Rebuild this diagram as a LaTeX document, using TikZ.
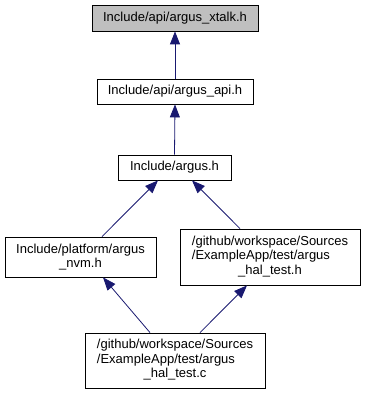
\documentclass[tikz,border=0pt]{standalone}
\usepackage{fontspec}
\setmainfont{Liberation Sans}
\usetikzlibrary{arrows.meta}
\definecolor{edgeblue}{HTML}{191970}
\definecolor{hilite}{HTML}{BFBFBF}
\begin{document}
\begin{tikzpicture}[x=1pt,y=-1pt,
  file/.style={draw=black, line width=0.8pt, fill=white, inner sep=0pt,
    font=\fontsize{13}{14.5}\selectfont, align=center},
  dep/.style={draw=edgeblue, line width=0.8pt,
    -{Triangle[length=13pt,width=10pt,fill=edgeblue]}}]
\useasboundingbox (0,0) rectangle (365,395);

% include files
\node[file, fill=hilite, minimum width=166pt, minimum height=26pt] (xtalk) at (175,18) {Include/api/argus\_xtalk.h};
\node[file, minimum width=156pt, minimum height=25pt] (api) at (175,91.5) {Include/api/argus\_api.h};
\node[file, minimum width=113pt, minimum height=25pt] (argus) at (174.5,167.5) {Include/argus.h};
\node[file, minimum width=151pt, minimum height=40pt] (nvm) at (80.5,257) {Include/platform/argus\\\_nvm.h};
\node[file, minimum width=180pt, minimum height=56pt] (halh) at (270,257)
  {\begin{tabular}{@{}l@{}}/github/workspace/Sources\\/ExampleApp/test/argus\\\multicolumn{1}{@{}c@{}}{\_hal\_test.h}\end{tabular}};
\node[file, minimum width=180pt, minimum height=55pt] (halc) at (175,360.5)
  {\begin{tabular}{@{}l@{}}/github/workspace/Sources\\/ExampleApp/test/argus\\\multicolumn{1}{@{}c@{}}{\_hal\_test.c}\end{tabular}};

% include dependencies
\draw[dep] (api.north) -- (xtalk.south);
\draw[dep] (argus.north) -- (api.south);
\draw[dep] ([xshift=21.5pt]nvm.north) -- ([xshift=-16.5pt]argus.south);
\draw[dep] ([xshift=-30pt]halh.north) -- ([xshift=17.5pt]argus.south);
\draw[dep] ([xshift=-25pt]halc.north) -- ([xshift=22.5pt]nvm.south);
\draw[dep] ([xshift=25pt]halc.north) -- ([xshift=-23pt]halh.south);
\end{tikzpicture}
\end{document}
